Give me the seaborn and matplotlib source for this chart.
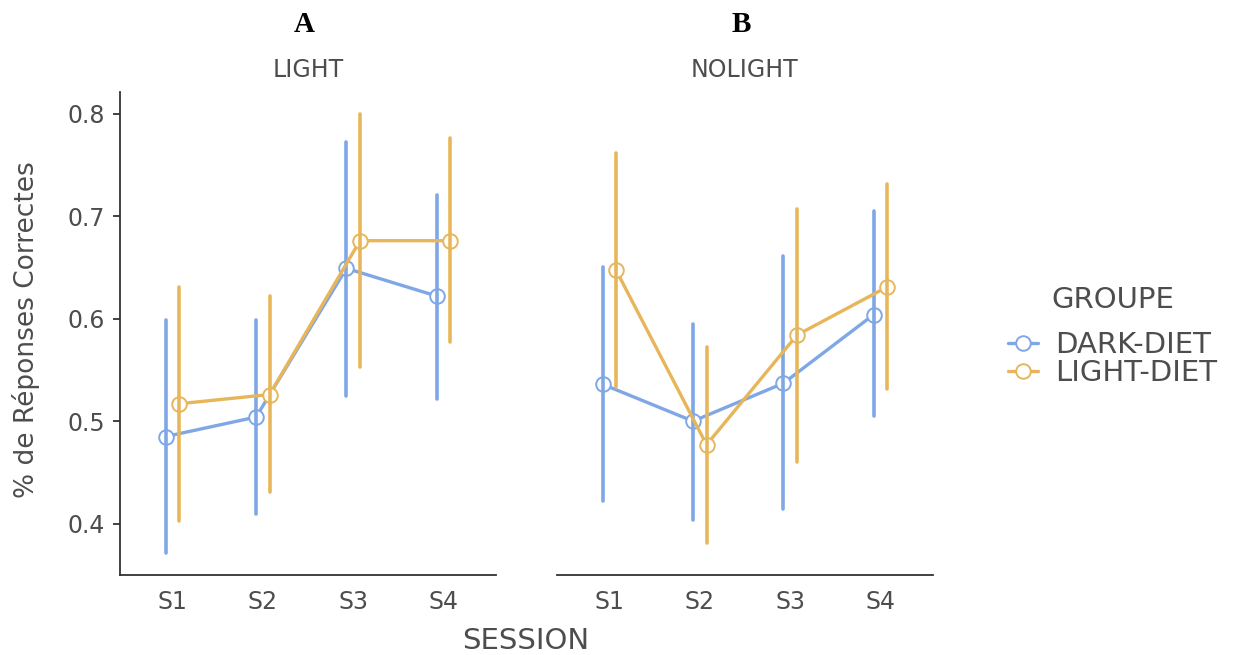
import numpy as np
import pandas as pd
import matplotlib
matplotlib.use("Agg")
import matplotlib.pyplot as plt
from matplotlib.lines import Line2D
import seaborn as sns

sessions = ["S1", "S2", "S3", "S4"]
groups = ["DARK-DIET", "LIGHT-DIET"]
conditions = ["LIGHT", "NOLIGHT"]
panel_letters = ["A", "B"]

# LIGHT condition
light_dark_mean = [0.485, 0.504, 0.649, 0.622]
light_dark_lo   = [0.371, 0.409, 0.525, 0.522]
light_dark_hi   = [0.599, 0.599, 0.772, 0.721]
light_light_mean = [0.517, 0.526, 0.676, 0.676]
light_light_lo   = [0.403, 0.431, 0.553, 0.577]
light_light_hi   = [0.631, 0.622, 0.800, 0.776]

# NOLIGHT condition
nolight_dark_mean = [0.536, 0.500, 0.537, 0.604]
nolight_dark_lo   = [0.422, 0.404, 0.414, 0.505]
nolight_dark_hi   = [0.650, 0.595, 0.661, 0.705]
nolight_light_mean = [0.647, 0.477, 0.584, 0.631]
nolight_light_lo   = [0.533, 0.381, 0.460, 0.531]
nolight_light_hi   = [0.762, 0.572, 0.707, 0.731]

series = {
    ("LIGHT", "DARK-DIET"): (light_dark_mean, light_dark_lo, light_dark_hi),
    ("LIGHT", "LIGHT-DIET"): (light_light_mean, light_light_lo, light_light_hi),
    ("NOLIGHT", "DARK-DIET"): (nolight_dark_mean, nolight_dark_lo, nolight_dark_hi),
    ("NOLIGHT", "LIGHT-DIET"): (nolight_light_mean, nolight_light_lo, nolight_light_hi),
}

rows = []
for (cond, grp), (m, lo, hi) in series.items():
    for s, a, b, c in zip(sessions, m, lo, hi):
        for v in (b, a, c):
            rows.append({"COND": cond, "GROUPE": grp, "SESSION": s, "VAL": v})
df = pd.DataFrame(rows)

palette = {"DARK-DIET": "#7FA7E6", "LIGHT-DIET": "#E8B65A"}
text_col = "#4D4D4D"

sns.set_theme(style="white")
plt.rcParams["font.family"] = ["DejaVu Sans"]

fig = plt.figure(figsize=(12.34, 6.55), dpi=100)
W, H = 1234, 655
ax_bottom = (H - 575) / H
ax_height = (575 - 92) / H
lefts = [120, 557]
width = 376

for i, cond in enumerate(conditions):
    ax = fig.add_axes([lefts[i] / W, ax_bottom, width / W, ax_height])
    sub = df[df["COND"] == cond]
    sns.pointplot(
        data=sub, x="SESSION", y="VAL", hue="GROUPE",
        order=sessions, hue_order=groups, palette=palette,
        estimator="median", errorbar=lambda x: (np.min(x), np.max(x)),
        dodge=0.15, markers="o", linestyles="-",
        markersize=10.5, markerfacecolor="white", markeredgewidth=1.4,
        linewidth=2.4, err_kws={"linewidth": 2.6},
        legend=False, ax=ax,
    )
    ax.set_xlim(-0.58, 3.58)
    ax.set_ylim(0.35, 0.821)
    ax.set_yticks([0.4, 0.5, 0.6, 0.7, 0.8])
    ax.set_xlabel("")
    ax.set_ylabel("")
    for sp in ["top", "right"]:
        ax.spines[sp].set_visible(False)
    ax.spines["bottom"].set_color("#333333")
    ax.spines["bottom"].set_linewidth(1.3)
    ax.tick_params(axis="x", length=5, width=1.3, color="#333333",
                   labelsize=17, labelcolor=text_col, pad=6)
    if i == 0:
        ax.spines["left"].set_color("#333333")
        ax.spines["left"].set_linewidth(1.3)
        ax.tick_params(axis="y", length=5, width=1.3, color="#333333",
                       labelsize=17, labelcolor=text_col, pad=6, left=True)
        ax.set_yticklabels([f"{v:.1f}" for v in [0.4, 0.5, 0.6, 0.7, 0.8]])
    else:
        ax.spines["left"].set_visible(False)
        ax.tick_params(axis="y", left=False, labelleft=False)
    cx = (lefts[i] + width / 2) / W
    fig.text(cx - 4 / W, 1 - 25 / H, panel_letters[i], ha="center", va="center",
             fontsize=21, fontweight="bold", family="Liberation Serif", color="black")
    fig.text(cx, 1 - 70 / H, cond, ha="center", va="center",
             fontsize=17, color=text_col)

fig.text(526 / W, 1 - 641 / H, "SESSION", ha="center", va="center",
         fontsize=21, color=text_col)
fig.text(26 / W, 1 - 330 / H, "% de Réponses Correctes", ha="center", va="center",
         rotation=90, fontsize=19, color=text_col)

handles = [Line2D([0], [0], color=palette[g], lw=2.4, marker="o", markersize=10.5,
                  markerfacecolor="white", markeredgewidth=1.4) for g in groups]
leg = fig.legend(handles, groups, title="GROUPE", loc="upper left",
                 bbox_to_anchor=(988 / W, 1 - 266 / H), frameon=False,
                 fontsize=21, title_fontsize=21, handlelength=1.0,
                 handletextpad=0.6, labelspacing=0.0, alignment="center",
                 borderpad=0.2)
leg._legend_box.sep = 12
for t in leg.get_texts():
    t.set_color(text_col)
leg.get_title().set_color(text_col)

fig.savefig("out.png", dpi=100)
